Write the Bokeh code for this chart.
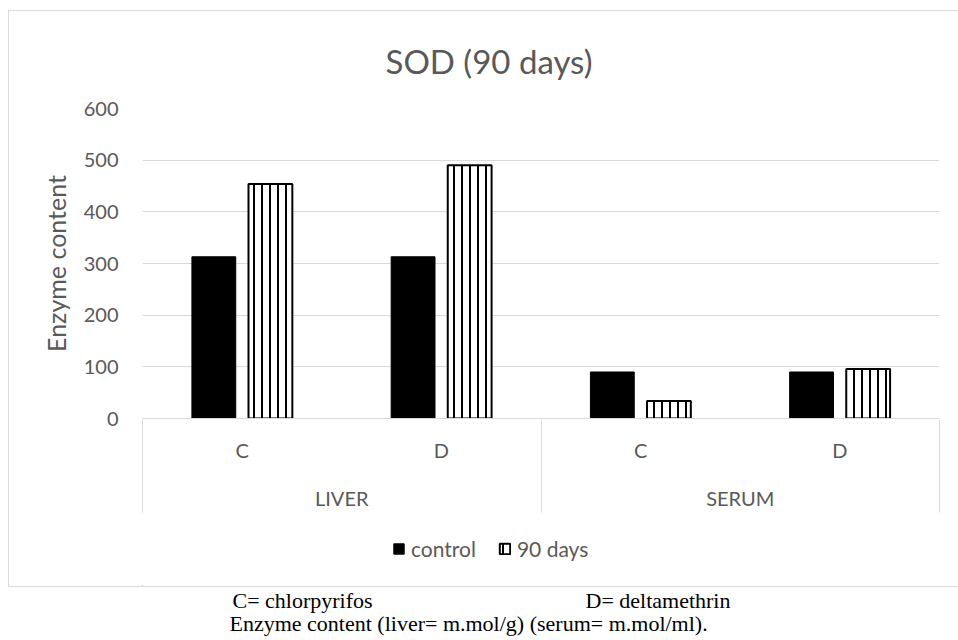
from bokeh.plotting import figure
from bokeh.layouts import column
from bokeh.models import (ColumnDataSource, FactorRange, Range1d, CategoricalAxis, FixedTicker,
                          Legend, LegendItem, Label, Title)
from bokeh.transform import dodge
from bokeh.embed import file_html
from bokeh.resources import INLINE

# ---------------- data ----------------
groups = ["LIVER", "SERUM"]
agents = ["C", "D"]
series_names = ["control", "90 days"]
control_values = [313, 313, 90, 90]
days90_values = [454, 490, 34, 96]
y_ticks = [0, 100, 200, 300, 400, 500, 600]
chart_title = "SOD (90 days)"
y_title = "Enzyme content"
caption_c = "C= chlorpyrifos"
caption_d = "D= deltamethrin"
caption_units = "Enzyme content (liver= m.mol/g) (serum= m.mol/ml)."

# ---------------- layout constants (px) ----------------
TXT = "#595959"
GRID = "#d9d9d9"
FONT = "Lato"
CW = 949                     # chart canvas width (inside border)
PH, LH = 519, 56             # chart canvas height, legend strip height
FL, FR, FT, FB = 133, 930, 97, 407   # frame edges in chart-canvas pixels

ctrl_style = dict(fill_color="black", line_color="black", line_width=1)
days_style = dict(fill_color="white", line_color="black", line_width=2,
                  hatch_pattern="vertical_line", hatch_color="black", hatch_weight=2, hatch_scale=8)

factors = [(g, a) for g in groups for a in agents]
src = ColumnDataSource(dict(x=factors, control=control_values, days=days90_values))

p = figure(width=CW, height=PH, output_backend="svg", toolbar_location=None,
           x_range=FactorRange(*factors, range_padding=0, group_padding=0, subgroup_padding=0),
           y_range=Range1d(0, 600), title=None,
           min_border_left=FL, min_border_right=CW - FR, min_border_top=FT, min_border_bottom=PH - FB)
p.outline_line_color = None
p.extra_x_ranges = {
    "groups": FactorRange(*groups, range_padding=0),
    "edges": FactorRange(*["e%d" % i for i in range(len(groups) + 1)],
                         range_padding=-0.499, range_padding_units="absolute"),
}

# bars
p.vbar(x=dodge("x", -0.142, range=p.x_range), top="control", width=0.22, source=src, **ctrl_style)
p.vbar(x=dodge("x", 0.142, range=p.x_range), top="days", width=0.22, source=src, **days_style)

# y axis
ya = p.yaxis[0]
ya.ticker = FixedTicker(ticks=y_ticks)
ya.bounds = (y_ticks[0], y_ticks[-1])
ya.axis_line_color = None
ya.major_tick_out = 0
ya.major_tick_in = 0
ya.minor_tick_out = 0
ya.minor_tick_in = 0
ya.major_label_text_font = FONT
ya.major_label_text_font_size = "20px"
ya.major_label_text_color = TXT
ya.major_label_standoff = 24
ya.axis_label = y_title
ya.axis_label_text_font = FONT
ya.axis_label_text_font_size = "25px"
ya.axis_label_text_font_style = "normal"
ya.axis_label_text_color = TXT
ya.axis_label_standoff = 10

p.ygrid.grid_line_color = GRID
p.ygrid.grid_line_width = 1
p.ygrid.ticker = FixedTicker(ticks=y_ticks)
p.xgrid.grid_line_color = None

# x axis 1: agent labels (group level drawn by axis 2)
ax1 = p.xaxis[0]
ax1.axis_line_color = GRID
ax1.axis_line_width = 1
ax1.major_tick_out = 0
ax1.major_tick_in = 0
ax1.major_label_text_font = FONT
ax1.major_label_text_font_size = "20px"
ax1.major_label_text_color = TXT
ax1.major_label_standoff = 19
ax1.group_text_color = None
ax1.separator_line_color = None

# x axis 2: group labels
ax2 = CategoricalAxis(x_range_name="groups")
ax2.axis_line_color = None
ax2.major_tick_out = 0
ax2.major_tick_in = 0
ax2.major_label_text_font = FONT
ax2.major_label_text_font_size = "20px"
ax2.major_label_text_color = TXT
ax2.major_label_standoff = 21
p.add_layout(ax2, "below")

# x axis 3: group separators (ticks reaching up to the baseline)
ax3 = CategoricalAxis(x_range_name="edges")
ax3.axis_line_color = None
ax3.major_tick_out = 0
ax3.major_tick_in = 93
ax3.major_tick_line_color = GRID
ax3.major_tick_line_width = 1
ax3.major_label_text_color = None
ax3.major_label_text_font_size = "1px"
ax3.major_label_standoff = 0
p.add_layout(ax3, "below")

# title
p.add_layout(Title(text=chart_title, align="left", offset=243, standoff=55,
                   text_font=FONT, text_font_size="33px", text_font_style="normal",
                   text_color=TXT), "above")

# legend strip (inside the bordered chart box); proxy glyphs lie far outside its view
leg = figure(width=CW, height=LH, output_backend="svg", toolbar_location=None,
             x_range=Range1d(0, 1), y_range=Range1d(0, 1), title=None,
             x_axis_location=None, y_axis_location=None,
             min_border_left=FL, min_border_right=CW - FR, min_border_top=0, min_border_bottom=0)
leg.outline_line_color = None
leg.grid.visible = False
k_ctrl = leg.vbar(x=[-50], top=[-40], bottom=[-50], width=0.1, **ctrl_style)
k_days = leg.vbar(x=[-50], top=[-40], bottom=[-50], width=0.1, **days_style)
legend = Legend(items=[LegendItem(label=series_names[0], renderers=[k_ctrl]),
                       LegendItem(label=series_names[1], renderers=[k_days])],
                orientation="horizontal", location=(250, 25),
                padding=0, margin=0, spacing=22, label_standoff=6,
                glyph_width=13, glyph_height=13,
                border_line_color=None, background_fill_alpha=0,
                label_text_font=FONT, label_text_font_size="21px", label_text_color=TXT)
leg.add_layout(legend, "center")

box = column(p, leg, spacing=0, margin=(10, 0, 0, 8),
             styles={"border": "1px solid " + GRID, "border-right": "none"})

# captions figure
c = figure(width=958, height=53, output_backend="svg", toolbar_location=None,
           x_range=Range1d(0, 1), y_range=Range1d(0, 1), title=None,
           x_axis_location=None, y_axis_location=None,
           min_border_left=0, min_border_right=0, min_border_top=0, min_border_bottom=0)
c.outline_line_color = None
c.grid.visible = False
for txt, x0, yb in [(caption_c, 232, 40), (caption_d, 585, 40), (caption_units, 229, 17)]:
    c.add_layout(Label(x=x0, y=yb, x_units="screen", y_units="screen", text=txt,
                       text_align="left", text_baseline="alphabetic",
                       text_font="Liberation Serif", text_font_size="22px", text_color="black"))

layout = column(box, c, spacing=0)
open("out.html", "w").write(file_html(layout, INLINE))
